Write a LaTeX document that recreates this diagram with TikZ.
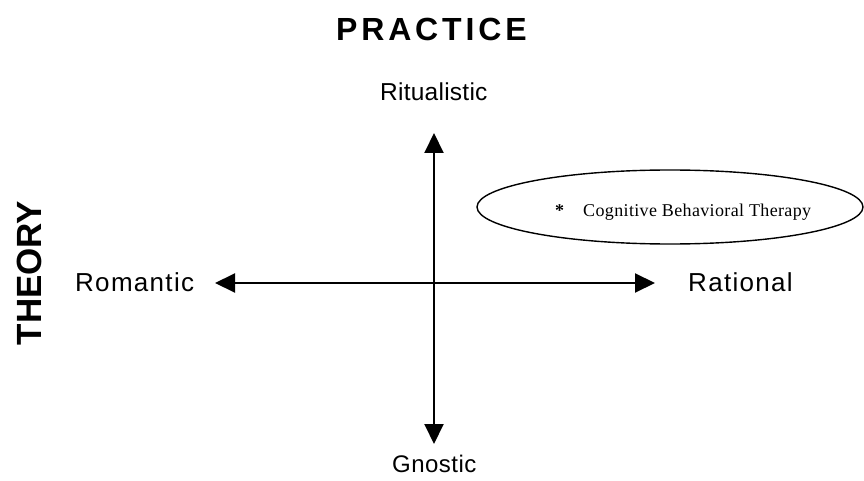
\documentclass[tikz,border=0pt]{standalone}
\usepackage{fontspec}
\setmainfont{Liberation Sans}
\newfontfamily\cbtfont{Liberation Serif}
\usetikzlibrary{arrows.meta,shapes.geometric}

\tikzset{
  axis/.style={line width=2pt, {Triangle[length=20pt,width=19pt]}-{Triangle[length=20pt,width=19pt]}},
  pole/.style={inner sep=0pt, font=\fontsize{26}{29}\selectfont},
  heading/.style={inner sep=0pt, font=\fontsize{32}{35}\bfseries\selectfont},
  oval/.style={draw, line width=1.4pt, ellipse, minimum width=386pt, minimum height=74pt, inner sep=0pt},
}

\begin{document}
\begin{tikzpicture}[x=1pt, y=-1pt]
  \useasboundingbox (0,0) rectangle (864,481);

  % axis end points
  \coordinate (top) at (434,133);
  \coordinate (bottom) at (434,444);
  \coordinate (left) at (215,283);
  \coordinate (right) at (655,283);

  % the two axes
  \draw[axis] (bottom) -- (top);
  \draw[axis] (left) -- (right);

  % headings
  \node[heading, anchor=base west] (practice) at (336,41)
    {\addfontfeature{LetterSpace=12}PRACTICE};
  \node[heading, font=\fontsize{35}{38}\bfseries\selectfont, rotate=90, anchor=base]
    (theory) at (41,273) {THEORY};

  % poles of the axes
  \node[pole, font=\fontsize{24.5}{28}\selectfont, anchor=base west] (ritual) at (380,101)
    {\addfontfeature{LetterSpace=1}Ritualistic};
  \node[pole, anchor=base west] (romantic) at (75,291)
    {\addfontfeature{LetterSpace=5}Romantic};
  \node[pole, anchor=base west] (rational) at (688,291)
    {\addfontfeature{LetterSpace=5}Rational};
  \node[pole, font=\fontsize{24}{28}\selectfont, anchor=base west] (gnostic) at (392,472)
    {\addfontfeature{LetterSpace=2}Gnostic};

  % therapy placed in the rational / ritualistic quadrant
  \node[oval] (cbtoval) at (670,207) {};
  \node[inner sep=0pt, anchor=base west, font=\fontsize{18}{20}\cbtfont\selectfont]
    (cbt) at (555,216) {\textbf{*}\hspace{19pt}\addfontfeature{LetterSpace=2}Cognitive Behavioral Therapy};
\end{tikzpicture}
\end{document}
